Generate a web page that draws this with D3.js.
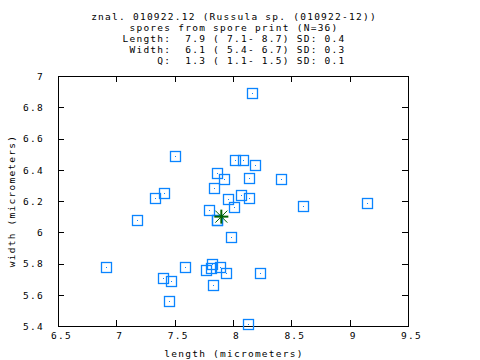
<!DOCTYPE html>
<html><head><meta charset="utf-8">
<script src="https://cdn.jsdelivr.net/npm/d3@7"></script>
<style>
body{margin:0;background:#fff;}
text{font-family:"DejaVu Sans Mono",monospace;font-size:9.5px;letter-spacing:1.25px;fill:#000;white-space:pre;}
</style></head><body>
<svg id="c" width="480" height="360"></svg>
<script>
const titleLines = [
  "znal. 010922.12 (Russula sp. (010922-12))",
  "spores from spore print (N=36)",
  "Length:  7.9 ( 7.1- 8.7) SD: 0.4",
  " Width:  6.1 ( 5.4- 6.7) SD: 0.3",
  "     Q:  1.3 ( 1.1- 1.5) SD: 0.1"
];
const xLabel = "length (micrometers)";
const yLabel = "width (micrometers)";
const xTicks = [6.5, 7, 7.5, 8, 8.5, 9, 9.5];
const yTicks = [5.4, 5.6, 5.8, 6, 6.2, 6.4, 6.6, 6.8, 7];
const sporeLength = [8.165,7.505,8.02,8.088,8.191,7.866,7.926,8.14,8.414,7.84,7.411,7.334,7.96,8.071,8.14,8.603,9.151,7.797,8.011,7.18,7.866,7.986,6.914,7.591,7.823,7.814,7.403,7.471,8.234,7.943,7.891,7.831,7.454,8.131,7.771,7.866];
const sporeWidth  = [6.889,6.486,6.46,6.46,6.428,6.377,6.339,6.345,6.339,6.281,6.249,6.217,6.211,6.236,6.217,6.166,6.185,6.14,6.16,6.076,6.076,5.968,5.776,5.776,5.795,5.769,5.705,5.686,5.737,5.737,5.776,5.66,5.558,5.411,5.757,6.076];
const meanPoint = [7.9, 6.1];

const svg = d3.select("#c");
const x = d3.scaleLinear().domain([6.5, 9.5]).range([58, 408]);
const y = d3.scaleLinear().domain([5.4, 7]).range([326, 76]);
const fmt = d => String(+d.toFixed(1));

// title
svg.selectAll("text.title").data(titleLines).enter().append("text")
  .attr("class","title").attr("x",234).attr("y",(d,i)=>19.5+i*11)
  .attr("text-anchor","middle").text(d=>d);

// axes (inward ticks, mirrored)
const gx = svg.append("g").attr("transform","translate(0,326)")
  .call(d3.axisBottom(x).tickValues(xTicks).tickSize(-6).tickPadding(13).tickFormat(fmt));
const gxt = svg.append("g").attr("transform","translate(0,76)")
  .call(d3.axisTop(x).tickValues(xTicks).tickSize(-6).tickFormat(""));
const gy = svg.append("g").attr("transform","translate(58,0)")
  .call(d3.axisLeft(y).tickValues(yTicks).tickSize(-6).tickPadding(14).tickFormat(fmt));
const gyr = svg.append("g").attr("transform","translate(408,0)")
  .call(d3.axisRight(y).tickValues(yTicks).tickSize(-6).tickFormat(""));
[gx,gxt,gy,gyr].forEach(g=>{
  g.select(".domain").remove();
  g.selectAll("line").attr("stroke","#000").attr("shape-rendering","crispEdges");
  g.selectAll("text").attr("font-family",null).attr("font-size",null).attr("fill","#000");
});
gx.selectAll("text").attr("dx",3).attr("dy","0.71em").attr("y",6);
gy.selectAll("text").attr("dy","0.35em");

svg.append("rect").attr("x",x(6.5)).attr("y",y(7)).attr("width",x(9.5)-x(6.5)).attr("height",y(5.4)-y(7))
  .attr("fill","none").attr("stroke","#000").attr("shape-rendering","crispEdges");

// labels
svg.append("text").attr("x",234).attr("y",357).attr("text-anchor","middle").text(xLabel);
svg.append("text").attr("transform","translate(15,201) rotate(-90)").attr("text-anchor","middle").text(yLabel);

// points
const pts = sporeLength.map((l,i)=>[l, sporeWidth[i]]);
const pg = svg.append("g");
pg.selectAll("rect.pt").data(pts).enter().append("rect").attr("class","pt")
  .attr("x",d=>Math.round(x(d[0]))-5+0.5).attr("y",d=>Math.round(y(d[1]))-5+0.5)
  .attr("width",10).attr("height",10).attr("fill","none").attr("stroke","#0a84ff").attr("stroke-width",1.3);
pg.selectAll("rect.dot").data(pts).enter().append("rect").attr("class","dot")
  .attr("x",d=>Math.round(x(d[0]))).attr("y",d=>Math.round(y(d[1])))
  .attr("width",1).attr("height",1).attr("fill","#0a84ff");

// mean star
const mx = x(meanPoint[0]), my = y(meanPoint[1]);
const sg = svg.append("g").attr("stroke","#006400");
sg.append("line").attr("x1",mx-7).attr("x2",mx+7).attr("y1",my).attr("y2",my).attr("stroke-width",2);
sg.append("line").attr("x1",mx).attr("x2",mx).attr("y1",my-7).attr("y2",my+7).attr("stroke-width",2);
sg.append("line").attr("x1",mx-6).attr("x2",mx+6).attr("y1",my-6).attr("y2",my+6).attr("stroke-width",1);
sg.append("line").attr("x1",mx-6).attr("x2",mx+6).attr("y1",my+6).attr("y2",my-6).attr("stroke-width",1);
</script></body></html>
